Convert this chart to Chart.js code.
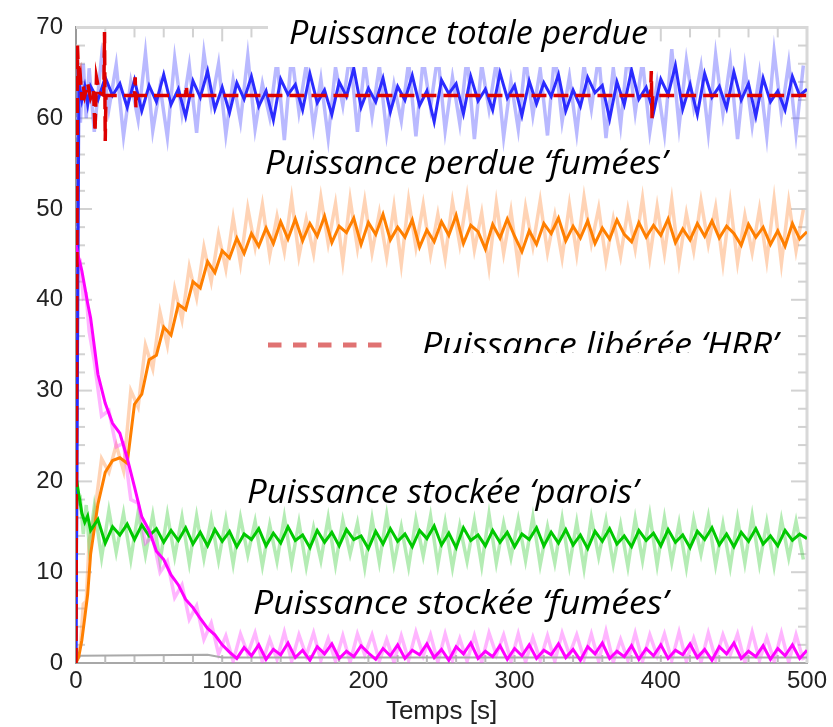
<!DOCTYPE html>
<html lang="fr">
<head>
<meta charset="utf-8">
<title>Bilan de puissance</title>
<script src="https://cdn.jsdelivr.net/npm/chart.js@4.4.0/dist/chart.umd.min.js"></script>
<style>
    html, body { margin: 0; padding: 0; background: #fff; }
    canvas { display: block; }
</style>
</head>
<body>
<canvas id="chartPuissance" width="833" height="727"></canvas>
<script>
// temps [s] communs aux courbes bruitées
const temps = [0,2,4,6,8,10,15,20,25,30,35,40,45,50,55,60,65,70,75,80,85,90,95,100,105,110,115,120,125,130,135,140,145,150,155,160,165,170,175,180,185,190,195,200,205,210,215,220,225,230,235,240,245,250,255,260,265,270,275,280,285,290,295,300,305,310,315,320,325,330,335,340,345,350,355,360,365,370,375,380,385,390,395,400,405,410,415,420,425,430,435,440,445,450,455,460,465,470,475,480,485,490,495,500];
// temps des pics clairs (décalés entre deux points du coeur)
const tempsClair = [0,1,3,5,7,9,12.5,17.5,22.5,27.5,32.5,37.5,42.5,47.5,52.5,57.5,62.5,67.5,72.5,77.5,82.5,87.5,92.5,97.5,102.5,107.5,112.5,117.5,122.5,127.5,132.5,137.5,142.5,147.5,152.5,157.5,162.5,167.5,172.5,177.5,182.5,187.5,192.5,197.5,202.5,207.5,212.5,217.5,222.5,227.5,232.5,237.5,242.5,247.5,252.5,257.5,262.5,267.5,272.5,277.5,282.5,287.5,292.5,297.5,302.5,307.5,312.5,317.5,322.5,327.5,332.5,337.5,342.5,347.5,352.5,357.5,362.5,367.5,372.5,377.5,382.5,387.5,392.5,397.5,402.5,407.5,412.5,417.5,422.5,427.5,432.5,437.5,442.5,447.5,452.5,457.5,462.5,467.5,472.5,477.5,482.5,487.5,492.5,497.5];

// Puissance totale perdue (coeur + pics clairs)
const totalePerdue = [0,64,62,63.5,61.5,63.5,62,64.5,62.5,63.8,61.2,64.2,60.8,63.6,61.8,64.8,61.5,63.2,60.2,64.1,62.3,65.2,61,63.4,60.6,63.9,62.1,64.6,61.3,63,59.8,64.3,62.6,63.7,60.9,64.9,61.7,63.1,60.4,64,62.4,65.5,61.2,63.3,61.8,64.4,60.7,63.5,62,64.7,61.4,63,59.6,64.2,62.7,63.8,60.5,64.6,61.9,63.2,60.9,65,62.2,63.6,60.3,64.1,61.6,63.9,62.4,64.8,60.8,63.1,61.3,64.5,62.8,63.6,59.9,64,61.5,65.3,62.1,63.4,60.6,64.3,62.6,65.8,61,63.7,60.4,64.9,62.3,63.5,61.1,65.1,62,63.8,60.2,64.4,61.8,63,60.9,64.6,62.5,63.2];
const totaleClair = [0,66.5,59.5,66,60,65.5,58.5,66.8,61,65.9,58,64,59.8,67.2,58.6,63.5,57.9,66.6,60.5,65.8,58.4,67.2,61.5,66,58.2,64.2,59.6,66.9,58.8,63.8,60.1,66.4,57.6,67.1,60.7,65.9,59,64.3,57.8,65.6,61.4,67.3,58.5,66.1,60.2,65.8,58.3,63.7,59.7,66.2,58,66.5,61.2,67,58.6,64.5,59.4,66.8,57.7,65.9,61,66.2,57.9,64.1,58.8,66.6,60.3,65.4,58.1,67.2,59.6,64.6,58.4,65.8,61,66.9,57.8,65.5,59.2,67.4,60.6,66.3,58.5,63.9,58.3,67.6,59.1,66.4,61.2,65.7,58.4,67,60.5,66.2,57.7,65.6,59.2,64.9,58,67.3,60.4,66.1,58.3,65.8];

// Puissance perdue 'fumées'
const perdueFumees = [0,0.8,2.5,5,7.6,12,17.5,21,22.3,22.6,22,28.5,29.6,33.4,33.9,37,36.1,39.5,38.9,42,41.3,44.2,43,45.4,44.6,46.8,45.1,47.3,45.9,47.9,46.2,48.6,46.7,48.9,46.5,48.4,47,49.2,46.3,48.1,47.4,49,46.1,48.5,47.2,49.4,46.6,48,46.9,48.8,45.8,47.7,46.4,48.6,47.1,49.3,46.2,48.2,47.5,45.6,48.3,46.8,48.9,47,45.3,47.6,46.1,48.4,47.3,49,46.5,48.1,46.8,48.7,46.2,47.9,46.7,48.8,47.2,46.4,48.5,46.9,48.2,47.1,48.9,46.3,47.8,46.6,48.4,47,48.7,46.8,48.1,47.3,46,48.3,46.9,48,46.1,47.6,45.9,48.4,46.7,47.5];
const perdueFumeesClair = [0,1.5,1.8,6.5,6.8,13.5,16.2,22.5,21,24,21.2,30,28.2,35,32.4,38.6,35,41.2,37.8,43.6,40.2,45.8,42,47.2,43.4,49,44,50.1,45.8,50.5,44.9,49.2,45.3,51.2,44.8,48.9,45.1,51.3,46.2,50.6,44.2,51.1,45.7,50.9,45.2,49.6,44.7,50.3,43.9,51,45.8,50.5,45,49.4,44.6,50.8,46.1,51.4,45.5,49.6,43.6,50.7,45.1,49.8,43.8,50.2,45.9,50.9,45.2,49.3,44.6,50.5,45,51.3,46.2,50.1,44.3,48.9,44.8,49.9,45.6,51.2,44.7,50.3,45.1,51,44.2,49.5,45.4,50.9,46.1,50.2,44,50.7,44.1,49.3,45.2,50,44.3,51.1,44,50.8,45.4,49.9];

// Puissance stockée 'parois'
const stockeeParois = [20.5,18.5,16.5,15.5,16.2,14.6,15.8,13.2,15,14.1,15.3,13.6,15.2,14,14.8,13.3,14.6,13.5,14.9,13.1,14.4,12.9,14.7,13.4,14.5,12.8,14.2,13.6,14.8,12.9,14.3,13.2,15,13.5,14.1,12.7,14.6,13.3,14.4,12.9,14.7,13.6,14,12.6,14.5,13.1,14.8,13.4,14.2,12.8,14.6,13.7,15.1,13,14.3,12.7,14.9,13.5,14.1,12.9,14.6,13.3,14.4,12.8,14.2,13.6,14.9,12.9,14.4,13.2,14.7,13,14.1,12.6,14.5,13.4,14.8,13.1,14,12.8,14.6,13.5,14.3,12.9,14.7,13.3,14.1,12.7,14.5,13.6,14.9,13,14.2,12.8,14.4,13.4,14.8,13.1,14,12.9,14.6,13.5,14.2,13.7];
const stockeeParoisClair = [21,17.5,18,14.2,17.4,13,17.2,11.6,16.8,12.2,16.5,11.4,16.6,11.9,16.3,11.2,16.4,11.7,16.1,11,16.2,11.5,15.9,11.3,15.8,10.9,16,11.9,15.6,10.7,15.2,11.2,16.1,11,15.5,10.6,14.9,11.3,16,10.8,15.7,12,15.4,10.5,15.9,11.1,16.3,10.9,15,10.6,15.8,11.8,16.2,10.8,15.5,10.5,15.1,11.2,15.7,10.7,16.4,11,15.4,11.6,15.8,11.3,16.1,10.8,15,11,15.9,10.7,15.5,10.4,16,11.7,15.7,10.9,15.2,10.6,15.9,11.3,16.3,10.8,16,11.1,15.4,10.5,15.8,12,16.1,10.8,15.3,10.6,15.9,11,16.2,10.9,15.5,10.7,15.8,11.6,15.6,11.4];

// Puissance stockée 'fumées'
const stockeeFumees = [46,44.5,43.2,41.4,39.6,38,31.8,28.6,26.4,25.3,22.6,19.4,16.1,14.6,12.3,11.4,9.7,8.6,7,6.1,4.9,3.8,3.1,2,1.2,0.5,1.7,0.8,2,0.4,1.5,0.9,2.2,0.6,1.4,0.3,1.8,1,2.1,0.5,1.3,0.7,1.9,1.1,0.4,1.6,0.8,2,0.5,1.4,0.9,2.1,0.6,1.5,0.3,1.8,1,2.2,0.5,1.3,0.7,1.9,0.4,1.6,0.8,2,0.5,1.4,0.9,2.1,0.6,1.5,0.3,1.8,1,2.2,0.5,1.3,0.7,1.9,0.4,1.6,0.8,2,0.5,1.4,0.9,2.1,0.6,1.5,0.3,1.8,1,2.2,0.5,1.3,0.7,1.9,0.4,1.6,0.8,2,0.5,1.4];
const stockeeFumeesClair = [47,43.5,44,40.2,40.5,36.5,33.2,27.2,27.8,23.8,24.2,18,17.6,13.2,13.9,10,11.2,7.2,8.6,4.8,6.3,2.6,4.4,1,3,0.2,3.2,1,3.3,0.1,2.6,0.4,3.4,0.2,3.1,0.8,3.3,0.3,2.7,0.2,3,0.1,3.2,0.9,3.1,0.2,2.6,0.1,3,0.3,3.4,0.8,3.1,0.1,3.2,0.3,2.7,0.2,3,0.1,3.3,0.9,3.1,0.2,3.2,0.1,2.8,0.3,3,0.2,3.3,0.9,3.1,0.4,3.2,0.2,3.5,0.1,2.6,0.3,3.3,0.2,3.1,0.8,3.2,0.3,3.4,0.2,2.7,0.1,3.3,0.4,3.1,0.9,3.2,0.1,3.4,0.3,2.8,0.2,3.3,0.1,3.1,0.3];

// Puissance libérée 'HRR' (consigne)
const hrrTemps = [0,1,2,3,4,5,6,8,10,12,13,14,16,19,19.5,20,20.5,40,40.5,41,41.5,75,75.5,76,393,393.5,394,394.5,500];
const hrrValeurs = [0,68,63.5,64.5,62,63.5,62.5,63.8,62.2,63,58.5,64.5,62.8,62.5,69.5,57.5,62.5,62.5,64.5,61.2,62.5,62.5,63.6,62.5,62.5,65.2,60,62.5,62.5];

// petite courbe grise proche de zéro
const grisTemps = [0,3,90,100,500];
const grisValeurs = [0,0.8,0.9,0.6,0.6];

const graduationsY = [0,10,20,30,40,50,60,70];
const graduationsX = [0,100,200,300,400,500];

const etiquettes = [
    { texte: 'Puissance totale perdue', gauche: 289, droite: 648, base: 44, fond: [268, 0, 377, 67] },
    { texte: 'Puissance perdue \u2018fum\u00e9es\u2019', gauche: 265, droite: 667, base: 174 },
    { texte: 'Puissance lib\u00e9r\u00e9e \u2018HRR\u2019', gauche: 422, droite: 778, base: 356, coupe: 353 },
    { texte: 'Puissance stock\u00e9e \u2018parois\u2019', gauche: 247, droite: 638, base: 503 },
    { texte: 'Puissance stock\u00e9e \u2018fum\u00e9es\u2019', gauche: 253, droite: 668, base: 614 }
];

function points(xs, ys) {
    return xs.map((t, i) => ({ x: t, y: ys[i] }));
}

function serie(xs, ys, couleur, largeur, ordre, extra) {
    return Object.assign({
        data: points(xs, ys),
        borderColor: couleur,
        borderWidth: largeur,
        pointRadius: 0,
        tension: 0,
        fill: false,
        order: ordre
    }, extra || {});
}

function trait(ctx, x1, y1, x2, y2) {
    ctx.beginPath();
    ctx.moveTo(x1, y1);
    ctx.lineTo(x2, y2);
    ctx.stroke();
}

// cadre gris clair + graduations intérieures
const pluginCadre = {
    id: 'cadre',
    beforeDatasetsDraw(chart) {
        const { ctx, chartArea: a, scales: { x, y } } = chart;
        ctx.save();
        ctx.strokeStyle = '#d8d8d8';
        ctx.lineWidth = 3;
        ctx.beginPath();
        ctx.moveTo(a.left, a.top);
        ctx.lineTo(a.right, a.top);
        ctx.lineTo(a.right, a.bottom);
        ctx.stroke();
        ctx.lineWidth = 2;
        ctx.strokeStyle = '#d2d2d2';
        for (let v = 2; v < 70; v += 2) {
            const py = y.getPixelForValue(v);
            const l = v % 10 === 0 ? 16 : 9;
            trait(ctx, a.left, py, a.left + l, py);
            trait(ctx, a.right, py, a.right - l, py);
        }
        for (let t = 20; t < 500; t += 20) {
            const px = x.getPixelForValue(t);
            const l = t % 100 === 0 ? 14 : 10;
            trait(ctx, px, a.top, px, a.top + l);
            ctx.strokeStyle = '#bdbdbd';
            trait(ctx, px, a.bottom, px, a.bottom - 8);
            ctx.strokeStyle = '#d2d2d2';
        }
        ctx.restore();
    }
};

// étiquettes en italique posées sur la figure
const pluginEtiquettes = {
    id: 'etiquettes',
    afterDatasetsDraw(chart) {
        const ctx = chart.ctx;
        ctx.save();
        etiquettes.forEach(e => {
            if (e.fond) {
                ctx.fillStyle = '#ffffff';
                ctx.fillRect(e.fond[0], e.fond[1], e.fond[2], e.fond[3]);
            }
        });
        // échantillon de trait pointillé pour HRR
        ctx.strokeStyle = '#e07272';
        ctx.lineWidth = 5;
        ctx.setLineDash([13.5, 11.5]);
        trait(ctx, 268, 345, 382, 345);
        ctx.setLineDash([]);
        ctx.fillStyle = '#000';
        ctx.textBaseline = 'alphabetic';
        ctx.font = 'italic 33px "Open Sans"';
        etiquettes.forEach(e => {
            ctx.save();
            if (e.coupe) {
                ctx.beginPath();
                ctx.rect(0, 0, 833, e.coupe);
                ctx.clip();
            }
            const w = ctx.measureText(e.texte).width;
            const sx = (e.droite - e.gauche) / w;
            ctx.translate(e.gauche, e.base);
            ctx.scale(sx, 1);
            ctx.fillText(e.texte, 0, 0);
            ctx.restore();
        });
        ctx.restore();
    }
};

const ctx = document.getElementById('chartPuissance').getContext('2d');

new Chart(ctx, {
    type: 'line',
    data: {
        datasets: [
            serie(hrrTemps, hrrValeurs, '#dd0000', 3.5, 0, { borderDash: [15, 7] }),
            serie(temps, stockeeFumees, '#ff00ff', 3, 1),
            serie(temps, stockeeParois, '#00c800', 3, 2),
            serie(temps, perdueFumees, '#ff7f00', 3, 3),
            serie(temps, totalePerdue, '#2b2bff', 3, 4),
            serie(grisTemps, grisValeurs, '#aaaaaa', 2, 5),
            serie(tempsClair, stockeeFumeesClair, 'rgba(255,60,255,0.38)', 3.5, 6),
            serie(tempsClair, stockeeParoisClair, 'rgba(40,200,40,0.35)', 3.5, 7),
            serie(tempsClair, perdueFumeesClair, 'rgba(255,140,60,0.38)', 3.5, 8),
            serie(tempsClair, totaleClair, 'rgba(70,70,255,0.38)', 3.5, 9)
        ]
    },
    options: {
        responsive: false,
        animation: false,
        layout: { padding: { left: 0, right: 26, top: 16, bottom: 0 } },
        plugins: {
            legend: { display: false },
            tooltip: { enabled: false }
        },
        scales: {
            x: {
                type: 'linear',
                min: 0,
                max: 500,
                afterFit: s => { s.height = 64; },
                afterBuildTicks: s => { s.ticks = graduationsX.map(v => ({ value: v })); },
                grid: { display: false, drawTicks: false },
                border: { display: true, color: '#a8a8a8', width: 2 },
                ticks: {
                    padding: 4,
                    maxRotation: 0,
                    color: '#222',
                    font: { family: '"Liberation Sans", Arial, sans-serif', size: 24 }
                },
                title: {
                    display: true,
                    text: 'Temps [s]',
                    color: '#222',
                    padding: { top: 0, bottom: 0 },
                    font: { family: '"Liberation Sans", Arial, sans-serif', size: 26 }
                }
            },
            y: {
                type: 'linear',
                min: 0,
                max: 70,
                afterFit: s => { s.width = 76; },
                afterBuildTicks: s => { s.ticks = graduationsY.map(v => ({ value: v })); },
                grid: { display: false, drawTicks: false },
                border: { display: true, color: '#9a9a9a', width: 2 },
                ticks: {
                    padding: 13,
                    color: '#222',
                    font: { family: '"Liberation Sans", Arial, sans-serif', size: 24 }
                }
            }
        }
    },
    plugins: [pluginCadre, pluginEtiquettes]
});
</script>
</body>
</html>
